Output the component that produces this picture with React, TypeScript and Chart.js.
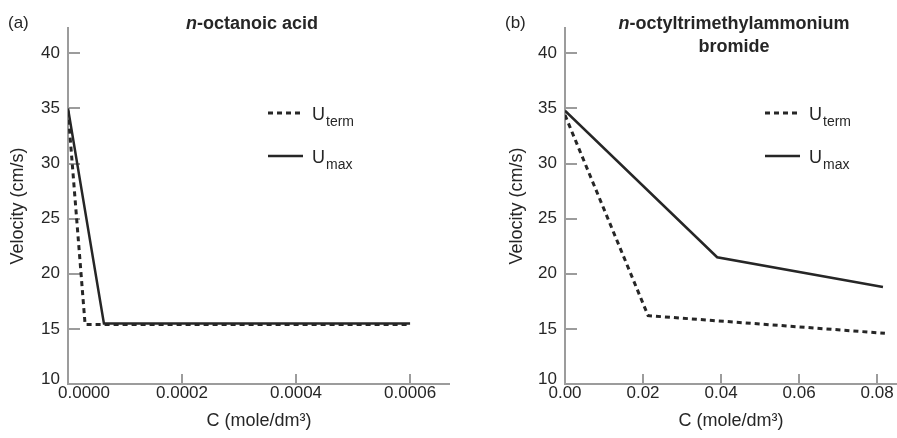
import React, { useEffect, useRef } from "react";
import { Chart, registerables } from "chart.js";

Chart.register(...registerables);

const FONT = "'Liberation Sans', Arial, Helvetica, sans-serif";
const INK = "#262626";
const AXIS = "#9c9c9c";

// Shared y-axis ticks
const yTicks = [10, 15, 20, 25, 30, 35, 40];

// Panel (a): n-octanoic acid
const aConcTerm = [0, 0.00003, 0.0006];
const aUTerm = [34.8, 15.4, 15.4];
const aConcMax = [0, 0.000063, 0.0006];
const aUMax = [35.0, 15.5, 15.5];
const aXTicks = [0, 0.0002, 0.0004, 0.0006];
const aXLabels = ["0.0000", "0.0002", "0.0004", "0.0006"];

// Panel (b): n-octyltrimethylammonium bromide
const bConcTerm = [0, 0.0213, 0.082];
const bUTerm = [34.4, 16.2, 14.6];
const bConcMax = [0, 0.039, 0.0815];
const bUMax = [34.8, 21.5, 18.8];
const bXTicks = [0, 0.02, 0.04, 0.06, 0.08];
const bXLabels = ["0.00", "0.02", "0.04", "0.06", "0.08"];

const legendMain = "U";
const legendSubs = ["term", "max"];

type Part = { t: string; italic?: boolean };

type Panel = {
  tag: string;
  titleLines: Part[][];
  titleX: number;
  concTerm: number[];
  uTerm: number[];
  concMax: number[];
  uMax: number[];
  xTicks: number[];
  xLabels: string[];
  xMax: number;
  padLeft: number;
  yWidth: number;
  left: number;
  width: number;
  firstLabelShift: number;
};

const panels: Panel[] = [
  {
    tag: "(a)",
    titleLines: [[{ t: "n", italic: true }, { t: "-octanoic acid" }]],
    titleX: 252,
    concTerm: aConcTerm,
    uTerm: aUTerm,
    concMax: aConcMax,
    uMax: aUMax,
    xTicks: aXTicks,
    xLabels: aXLabels,
    xMax: 0.00067,
    padLeft: 0,
    yWidth: 68,
    left: 0,
    width: 450,
    firstLabelShift: 16,
  },
  {
    tag: "(b)",
    titleLines: [
      [{ t: "n", italic: true }, { t: "-octyltrimethylammonium" }],
      [{ t: "bromide" }],
    ],
    titleX: 284,
    concTerm: bConcTerm,
    uTerm: bUTerm,
    concMax: bConcMax,
    uMax: bUMax,
    xTicks: bXTicks,
    xLabels: bXLabels,
    xMax: 0.0851,
    padLeft: 49,
    yWidth: 66,
    left: 450,
    width: 447,
    firstLabelShift: 0,
  },
];

function overlayPlugin(p: Panel) {
  return {
    id: "overlay" + p.tag,
    afterDraw(chart: any) {
      const ctx = chart.ctx as CanvasRenderingContext2D;
      const area = chart.chartArea;
      ctx.save();
      ctx.fillStyle = INK;
      ctx.textBaseline = "middle";

      // panel tag
      ctx.font = `17px ${FONT}`;
      ctx.textAlign = "left";
      const tagX = p.left === 0 ? 8 : 55;
      ctx.fillText(p.tag, tagX, 23);

      // first x tick label (shifted right of the tick in the original)
      if (p.firstLabelShift) {
        const xs = chart.scales.x;
        ctx.font = `17px ${FONT}`;
        ctx.textAlign = "center";
        ctx.textBaseline = "middle";
        ctx.fillText(p.xLabels[0], xs.getPixelForValue(p.xTicks[0]) + p.firstLabelShift, area.bottom + 9.5);
        ctx.textAlign = "left";
      }

      // title lines (bold, with italic n)
      p.titleLines.forEach((line, li) => {
        const fonts = line.map((part) => `${part.italic ? "italic " : ""}bold 18px ${FONT}`);
        let total = 0;
        line.forEach((part, i) => {
          ctx.font = fonts[i];
          total += ctx.measureText(part.t).width;
        });
        let x = p.titleX - total / 2;
        const y = 24 + li * 23;
        line.forEach((part, i) => {
          ctx.font = fonts[i];
          ctx.fillText(part.t, x, y);
          x += ctx.measureText(part.t).width;
        });
      });

      // legend
      const x0 = area.left + 200;
      const rows = [area.top + 85, area.top + 128];
      rows.forEach((y, i) => {
        ctx.beginPath();
        ctx.strokeStyle = INK;
        ctx.lineWidth = i === 0 ? 3 : 2.5;
        ctx.setLineDash(i === 0 ? [5, 4] : []);
        ctx.moveTo(x0, y);
        ctx.lineTo(x0 + 35, y);
        ctx.stroke();
        ctx.setLineDash([]);
        ctx.textBaseline = "alphabetic";
        ctx.font = `18px ${FONT}`;
        const tx = x0 + 44;
        ctx.fillText(legendMain, tx, y + 6.5);
        const w = ctx.measureText(legendMain).width;
        ctx.font = `14px ${FONT}`;
        ctx.fillText(legendSubs[i], tx + w + 1, y + 12.5);
      });
      ctx.restore();
    },
  };
}

function makeConfig(p: Panel): any {
  const termPts = p.concTerm.map((x, i) => ({ x, y: p.uTerm[i] }));
  const maxPts = p.concMax.map((x, i) => ({ x, y: p.uMax[i] }));
  return {
    type: "line",
    data: {
      datasets: [
        {
          label: "U_term",
          data: termPts,
          borderColor: INK,
          borderWidth: 3,
          borderDash: [5, 4],
          pointRadius: 0,
          fill: false,
          tension: 0,
        },
        {
          label: "U_max",
          data: maxPts,
          borderColor: INK,
          borderWidth: 2.5,
          pointRadius: 0,
          fill: false,
          tension: 0,
        },
      ],
    },
    options: {
      responsive: false,
      animation: false,
      devicePixelRatio: 1,
      layout: { padding: { top: 28, right: 0, bottom: 0, left: p.padLeft } },
      plugins: {
        legend: { display: false },
        tooltip: { enabled: false },
        title: { display: false },
      },
      scales: {
        x: {
          type: "linear",
          min: 0,
          max: p.xMax,
          afterBuildTicks: (s: any) => {
            s.ticks = p.xTicks.map((v) => ({ value: v }));
          },
          afterFit: (s: any) => {
            s.height = 54;
            s.paddingLeft = 0;
            s.paddingRight = 0;
          },
          grid: {
            drawOnChartArea: false,
            drawTicks: true,
            tickLength: -10,
            color: AXIS,
            lineWidth: 2,
          },
          border: { display: true, color: AXIS, width: 2 },
          ticks: {
            padding: 9,
            color: INK,
            autoSkip: false,
            maxRotation: 0,
            font: { family: FONT, size: 17 },
            callback: (_v: any, i: number) => (i === 0 && p.firstLabelShift ? "" : p.xLabels[i]),
          },
          title: {
            display: true,
            text: "C (mole/dm³)",
            color: INK,
            font: { family: FONT, size: 18 },
            padding: { top: 0, bottom: 6 },
          },
        },
        y: {
          type: "linear",
          min: 10,
          max: 42.3,
          afterBuildTicks: (s: any) => {
            s.ticks = yTicks.map((v) => ({ value: v }));
          },
          afterFit: (s: any) => {
            s.width = p.yWidth;
            s.paddingTop = 0;
            s.paddingBottom = 0;
          },
          grid: {
            drawOnChartArea: false,
            drawTicks: true,
            tickLength: -12,
            color: AXIS,
            lineWidth: 2,
          },
          border: { display: true, color: AXIS, width: 2 },
          ticks: {
            padding: 20,
            color: INK,
            autoSkip: false,
            font: (c: any) =>
              c.tick && c.tick.value === yTicks[0]
                ? { family: FONT, size: 17, lineHeight: "10px" }
                : { family: FONT, size: 17 },
            callback: (v: any) => (v === yTicks[0] ? [String(v), ""] : String(v)),
          },
          title: {
            display: true,
            text: "Velocity (cm/s)",
            color: INK,
            font: { family: FONT, size: 18 },
            padding: { top: 7, bottom: 0 },
          },
        },
      },
    },
    plugins: [overlayPlugin(p)],
  };
}

function PanelChart({ p }: { p: Panel }) {
  const ref = useRef<HTMLCanvasElement | null>(null);
  useEffect(() => {
    if (!ref.current) return;
    const chart = new Chart(ref.current, makeConfig(p));
    return () => chart.destroy();
  }, [p]);
  return (
    <canvas
      ref={ref}
      width={p.width}
      height={438}
      style={{ position: "absolute", left: p.left, top: 0, width: p.width, height: 438 }}
    />
  );
}

export default function App() {
  return (
    <div style={{ position: "absolute", left: 0, top: 0, width: 897, height: 438, background: "#ffffff" }}>
      {panels.map((p) => (
        <PanelChart key={p.tag} p={p} />
      ))}
    </div>
  );
}
